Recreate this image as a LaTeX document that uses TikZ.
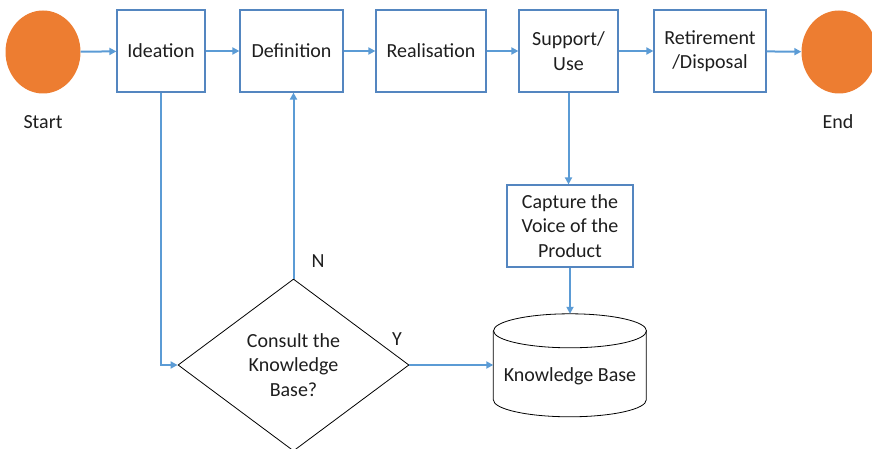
\documentclass[tikz,border=0pt]{standalone}
\usepackage{fontspec}
\setmainfont{Carlito}
\usetikzlibrary{shapes.geometric,arrows.meta}
\definecolor{flowblue}{RGB}{91,155,213}
\definecolor{boxblue}{RGB}{84,134,192}
\definecolor{termorange}{RGB}{237,125,49}
\definecolor{txtgray}{RGB}{30,30,30}
\begin{document}
\begin{tikzpicture}[x=1pt, y=-1pt, font=\fontsize{20}{24.5}\selectfont, text=txtgray]
        \tikzstyle{stage}=[draw=boxblue, line width=1.2pt, minimum height=82pt, align=center, inner sep=2pt]
        \tikzstyle{terminal}=[ellipse, fill=termorange, minimum width=75pt, minimum height=83pt, inner sep=0pt]
        \tikzstyle{decision}=[diamond, draw=black, line width=0.8pt, aspect=1.34, minimum width=231pt, minimum height=172pt, align=center, inner sep=0pt]
        \tikzstyle{flow}=[draw=flowblue, line width=2pt, -{Triangle[length=7pt,width=7pt]}]
        \useasboundingbox (0,0) rectangle (872,449);

% life-cycle stages along the top row
        \node[terminal] (start) at (43,52) {};
        \node (startlbl) at (43,122) {Start};
        \node[stage, minimum width=88pt] (idea) at (161,51) {Ideation};
        \node[stage, minimum width=103pt] (defn) at (291.5,51) {Definition};
        \node[stage, minimum width=110pt] (real) at (431,51) {Realisation};
        \node[stage, minimum width=99pt] (supp) at (568.5,51) {Support/\\Use};
        \node[stage, minimum width=112pt] (retire) at (710,51) {Retirement\\/Disposal};
        \node[terminal] (end) at (839,52) {};
        \node (endlbl) at (838,122) {End};

% knowledge capture and reuse
        \node[stage, minimum width=126pt] (voice) at (570,226) {Capture the\\Voice of the\\Product};
        \node[decision] (consult) at (293.5,365) {Consult the\\Knowledge\\Base?};
        \node[minimum width=153pt, minimum height=103pt] (kb) at (570,365.5) {};
        \draw[line width=0.8pt] (kb.north west) ++(0,17) -- ++(0,69) arc[start angle=180, end angle=0, x radius=76.5, y radius=17] -- ++(0,-69);
        \draw[line width=0.8pt] (kb.north) ++(0,17) ellipse[x radius=76.5, y radius=17];
        \node (kblbl) at (570,376) {Knowledge Base};
        \node (nlbl) at (318,261) {N};
        \node (ylbl) at (397,339) {Y};

        \draw[flow] (start) -- (idea);
        \draw[flow] (idea) -- (defn);
        \draw[flow] (defn) -- (real);
        \draw[flow] (real) -- (supp);
        \draw[flow] (supp) -- (retire);
        \draw[flow] (retire) -- (end);
        \draw[flow] (idea.south) |- (consult.west);
        \draw[flow] (consult.north) -- (consult.north |- defn.south);
        \draw[flow] (consult.east) -- (kb.west |- consult.east);
        \draw[flow] (supp.south) -- (supp.south |- voice.north);
        \draw[flow] (voice.south) -- (kb.north);

    \end{tikzpicture}
\end{document}
